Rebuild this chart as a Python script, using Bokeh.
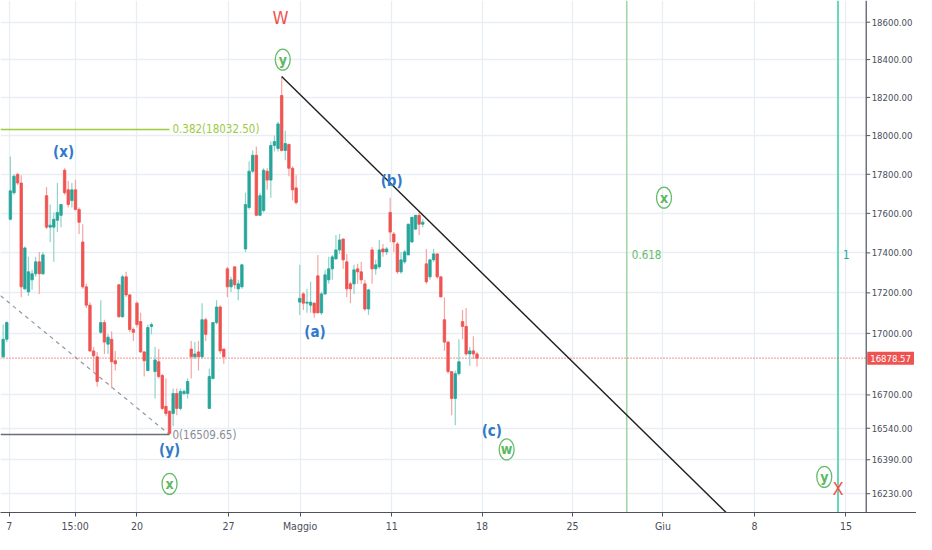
import numpy as np
from bokeh.plotting import figure
from bokeh.models import FixedTicker, Span, Label, Range1d, ColumnDataSource, Grid
from bokeh.embed import file_html
from bokeh.resources import INLINE
from bokeh.core.properties import value

# ---------------- data (2h candles, FTSE MIB) ----------------
opens = [16885, 16971, 17570, 17705, 17800, 17755, 17220, 17205, 17265, 17295,
         17355, 17295, 17690, 17530, 17530, 17565, 17590, 17821, 17720, 17665,
         17720, 17620, 17455, 17230, 17139, 16914, 16885, 17005, 17053, 16947,
         16971, 16866, 17240, 17082, 17280, 17190, 17019, 17149, 17058, 16909,
         16818, 17034, 16813, 16861, 16794, 16645, 16621, 16611, 16707, 16635,
         16707, 16707, 16923, 16885, 16909, 16885, 17067, 16635, 16779, 17053,
         17130, 16923, 17320, 17230, 17330, 17220, 17230, 17420, 17630, 17816,
         17898, 17590, 17615, 17816, 17770, 17949, 17933, 18210, 17923, 17954,
         17831, 17730, 17154, 17195, 17149, 17139, 17149, 17285, 17101, 17195,
         17265, 17320, 17370, 17415, 17470, 17355, 17245, 17245, 17320, 17305,
         17245, 17120, 17415, 17320, 17330, 17420, 17405, 17605, 17495, 17445,
         17305, 17355, 17390, 17455, 17520, 17590, 17545, 17345, 17280, 17365,
         17395, 17280, 17067, 16957, 16813, 16683, 16803, 17058, 17034, 16899,
         16914, 16899]
highs = [17043, 17058, 17892, 17800, 17805, 17795, 17432, 17380, 17315, 17380,
         17405, 17405, 17735, 17645, 17605, 17755, 17648, 17831, 17765, 17755,
         17770, 17630, 17545, 17245, 17154, 16933, 16909, 17163, 17067, 16995,
         17010, 16914, 17245, 17290, 17305, 17195, 17029, 17158, 17101, 16914,
         17043, 17053, 16933, 16923, 16803, 16779, 16626, 16731, 16731, 16731,
         16726, 16779, 16962, 16957, 16962, 17149, 17077, 16827, 17055, 17163,
         17139, 16925, 17330, 17280, 17332, 17265, 17345, 17705, 17867, 17923,
         17944, 17705, 17831, 17831, 17969, 18000, 18072, 18310, 18026, 17959,
         17841, 17795, 17340, 17205, 17220, 17255, 17154, 17390, 17205, 17315,
         17380, 17390, 17490, 17495, 17472, 17395, 17255, 17340, 17345, 17355,
         17265, 17220, 17430, 17365, 17465, 17445, 17430, 17680, 17505, 17455,
         17405, 17415, 17547, 17582, 17592, 17605, 17570, 17420, 17370, 17420,
         17397, 17282, 17178, 16962, 16815, 16818, 16971, 17115, 17125, 16933,
         16986, 16909]
lows = [16880, 16957, 17565, 17695, 17745, 17178, 17215, 17185, 17215, 17280,
        17195, 17290, 17520, 17455, 17355, 17505, 17530, 17695, 17630, 17630,
        17615, 17495, 17220, 17125, 16909, 16813, 16741, 16995, 16899, 16899,
        16731, 16818, 17077, 17077, 17180, 17005, 16962, 17029, 16905, 16789,
        16815, 16995, 16683, 16779, 16626, 16597, 16509.65, 16549, 16602, 16626,
        16698, 16683, 16779, 16875, 16818, 16875, 16962, 16633, 16777, 17043,
        16899, 16851, 17180, 17205, 17220, 17163, 17220, 17405, 17620, 17805,
        17588, 17588, 17605, 17720, 17680, 17918, 17918, 17918, 17872, 17790,
        17665, 17645, 17091, 17115, 17101, 17101, 17077, 17099, 17091, 17190,
        17245, 17265, 17365, 17395, 17320, 17178, 17149, 17195, 17245, 17245,
        17110, 17091, 17245, 17290, 17320, 17380, 17390, 17455, 17405, 17295,
        17295, 17345, 17388, 17450, 17515, 17490, 17530, 17245, 17265, 17355,
        17270, 17178, 16914, 16803, 16602, 16554, 16794, 16971, 16890, 16842,
        16875, 16837]
closes = [16971, 17053, 17715, 17790, 17755, 17230, 17425, 17305, 17295, 17355,
          17295, 17390, 17530, 17540, 17570, 17605, 17645, 17705, 17645, 17720,
          17620, 17555, 17230, 17139, 16914, 16890, 16765, 17053, 16957, 16981,
          16861, 16851, 17082, 17280, 17190, 17019, 17005, 17043, 16909, 16866,
          17029, 17043, 16870, 16789, 16635, 16611, 16515, 16707, 16635, 16717,
          16717, 16765, 16885, 16899, 16885, 17067, 16995, 16789, 17053, 17130,
          16914, 16885, 17230, 17265, 17240, 17245, 17340, 17645, 17816, 17898,
          17590, 17690, 17821, 17770, 17949, 17969, 18061, 17923, 17959, 17831,
          17720, 17655, 17173, 17149, 17154, 17154, 17101, 17101, 17195, 17290,
          17320, 17380, 17415, 17465, 17365, 17220, 17220, 17315, 17305, 17265,
          17120, 17215, 17320, 17340, 17415, 17405, 17420, 17505, 17455, 17305,
          17365, 17405, 17545, 17580, 17590, 17545, 17555, 17255, 17365, 17395,
          17280, 17180, 16957, 16813, 16683, 16803, 16861, 17034, 16899, 16914,
          16899, 16878.57]

x_tick_pos = [1.7, 19.9, 37.0, 62.3, 82.1, 107.4, 132.4, 157.4, 182.4, 207.7, 233.0]
x_tick_labels = ["7", "15:00", "20", "27", "Maggio", "11", "18", "25", "Giu", "8", "15"]
y_ticks = [16230, 16390, 16540, 16700, 17000, 17200, 17400, 17600, 17800, 18000, 18200, 18400, 18600]

last_price = 16878.57
fib_levels = [0.382, 0.0]
fib_prices = [18032.50, 16509.65]
fib_end_bar = 46
fib_diag_start = 17186

trend_bars = [77, 205.8]
trend_prices = [18310, 16044]

time_fib_labels = ["0.618", "1"]
time_fib_bars = [172.4, 230.8]
time_fib_colors = ["#a5d6a7", "#3fd1a4"]
time_fib_text_colors = ["#66bb6a", "#26a69a"]
time_fib_label_price = 17394

blue_labels = ["(x)", "(y)", "(a)", "(b)", "(c)"]
blue_x = [16.7, 46.0, 86.2, 107.4, 135.1]
blue_y = [17913, 16434, 17005, 17765, 16528]

red_labels = ["W", "X"]
red_x = [76.7, 230.8]
red_y = [18626, 16253]

circ_labels = ["y", "x", "w", "x", "y"]
circ_x = [77.3, 46.0, 139.2, 182.7, 227.0]
circ_y = [18400, 16276, 16439, 17680, 16309]

# ---------------- layout constants ----------------
FONT = "DejaVu Sans Condensed, Liberation Sans, sans-serif"
UP, DOWN = "#26a69a", "#ef5350"
UP_W, DOWN_W = "#8fd3ca", "#f5a6a4"
AX = "#50535e"
X0, AXIS_BAR, X1 = -0.73, 238.6, 252.5   # chart area | price scale strip
Y0, Y1 = 16142, 18717

n = len(opens)
idx = np.arange(n)
o = np.array(opens, float); c = np.array(closes, float)
h = np.array(highs, float); l = np.array(lows, float)
inc = c >= o
src = ColumnDataSource(dict(
    x=idx, top=np.maximum(o, c), bottom=np.minimum(o, c), high=h, low=l,
    col=[UP if v else DOWN for v in inc],
    wcol=[UP_W if v else DOWN_W for v in inc],
))

p = figure(width=916, height=534, y_axis_type="log", y_axis_location=None,
           x_range=Range1d(X0, X1), y_range=Range1d(Y0, Y1),
           output_backend="svg", toolbar_location=None,
           min_border_left=0, min_border_top=0, min_border_right=0, min_border_bottom=0)
p.outline_line_color = None
p.background_fill_color = "white"

# grid
p.xgrid.ticker = FixedTicker(ticks=x_tick_pos)
p.xgrid.grid_line_color = "#e9eef4"
p.xgrid.grid_line_width = 1.3
for g in list(p.ygrid):
    g.visible = False
p.add_layout(Grid(dimension=1, ticker=FixedTicker(ticks=y_ticks),
                  grid_line_color="#e9eef4", grid_line_width=1.3))

# time axis
p.xaxis.ticker = FixedTicker(ticks=x_tick_pos)
p.xaxis.major_label_overrides = {float(k): v for k, v in zip(x_tick_pos, x_tick_labels)}
p.xaxis.axis_line_color = AX
p.xaxis.major_tick_line_color = AX
p.xaxis.major_tick_out = 4
p.xaxis.major_tick_in = 0
p.xaxis.minor_tick_line_color = None
p.xaxis.major_label_text_color = "#4a4e5a"
p.xaxis.major_label_text_font = FONT
p.xaxis.major_label_text_font_size = "10.5px"
p.xaxis.major_label_standoff = 3

# price scale strip (right side)
p.quad(left=[AXIS_BAR], right=[X1], bottom=[Y0], top=[Y1], fill_color="white", line_color=None)
p.add_layout(Span(location=AXIS_BAR, dimension="height", line_color=AX, line_width=1.2))
p.segment(x0=[AXIS_BAR] * len(y_ticks), x1=[AXIS_BAR + 1.1] * len(y_ticks),
          y0=y_ticks, y1=y_ticks, line_color=AX, line_width=1)
p.text(x=[AXIS_BAR + 1.5] * len(y_ticks), y=y_ticks, text=["%.2f" % t for t in y_ticks],
       text_color="#4a4e5a", text_font=value(FONT), text_font_size="9.5px",
       text_baseline="middle", text_align="left")

# fib retracement
p.line(x=[X0, fib_end_bar], y=[fib_diag_start, fib_prices[1]], line_color="#9598a1",
       line_dash="4 4", line_width=1.2)
p.line(x=[X0, fib_end_bar], y=[fib_prices[0]] * 2, line_color="#9ccc3f", line_width=1.5)
p.line(x=[X0, fib_end_bar], y=[fib_prices[1]] * 2, line_color="#6a6d78", line_width=1.5)
p.text(x=[fib_end_bar + 0.8], y=[fib_prices[0]],
       text=["%g(%.2f)" % (fib_levels[0], fib_prices[0])],
       text_color="#9ccc3f", text_font=value(FONT), text_font_size="11.5px",
       text_baseline="middle", text_align="left")
p.text(x=[fib_end_bar + 0.8], y=[fib_prices[1]],
       text=["%g(%.2f)" % (fib_levels[1], fib_prices[1])],
       text_color="#8a8d96", text_font=value(FONT), text_font_size="11.5px",
       text_baseline="middle", text_align="left")

# time fib vertical lines
for b, lab, lc, tc in zip(time_fib_bars, time_fib_labels, time_fib_colors, time_fib_text_colors):
    p.line(x=[b, b], y=[Y0, Y1], line_color=lc, line_width=1.6)
    p.text(x=[b + 1.4], y=[time_fib_label_price], text=[lab], text_color=tc,
           text_font=value(FONT), text_font_size="11.5px", text_baseline="middle",
           text_align="left")

# current price line
p.line(x=[X0, AXIS_BAR], y=[last_price] * 2, line_color="#ef5350", line_dash="1 2",
       line_width=1.2)

# candles
p.segment(x0="x", y0="low", x1="x", y1="high", line_color="wcol", line_width=1.2, source=src)
p.vbar(x="x", width=0.68, top="top", bottom="bottom", fill_color="col", line_color="col",
       line_width=0.8, source=src)

# trend line
p.line(x=trend_bars, y=trend_prices, line_color="#1e1e1e", line_width=1.4)

# wave labels
p.text(x=blue_x, y=blue_y, text=blue_labels, text_color="#3179c9", text_font=value(FONT),
       text_font_size="15px", text_font_style="bold", text_align="center", text_baseline="middle")
p.text(x=red_x, y=red_y, text=red_labels, text_color="#ef5350", text_font=value(FONT),
       text_font_size="18px", text_align="center", text_baseline="middle")
p.ellipse(x=circ_x, y=circ_y, width=15, height=21, width_units="screen", height_units="screen",
          fill_color=None, line_color="#66bb6a", line_width=1.3)
p.text(x=circ_x, y=circ_y, text=circ_labels, text_color="#5cb860", text_font=value(FONT),
       text_font_size="14px", text_font_style="bold", text_align="center", text_baseline="middle")

# last price tag on the price scale
p.add_layout(Label(x=AXIS_BAR, y=last_price, x_offset=1, text="%.2f" % last_price,
                   text_color="white", text_font=FONT, text_font_size="9.5px",
                   text_align="left", text_baseline="middle",
                   background_fill_color="#ef5350", padding=3))

open("out.html", "w").write(file_html(p, INLINE))
